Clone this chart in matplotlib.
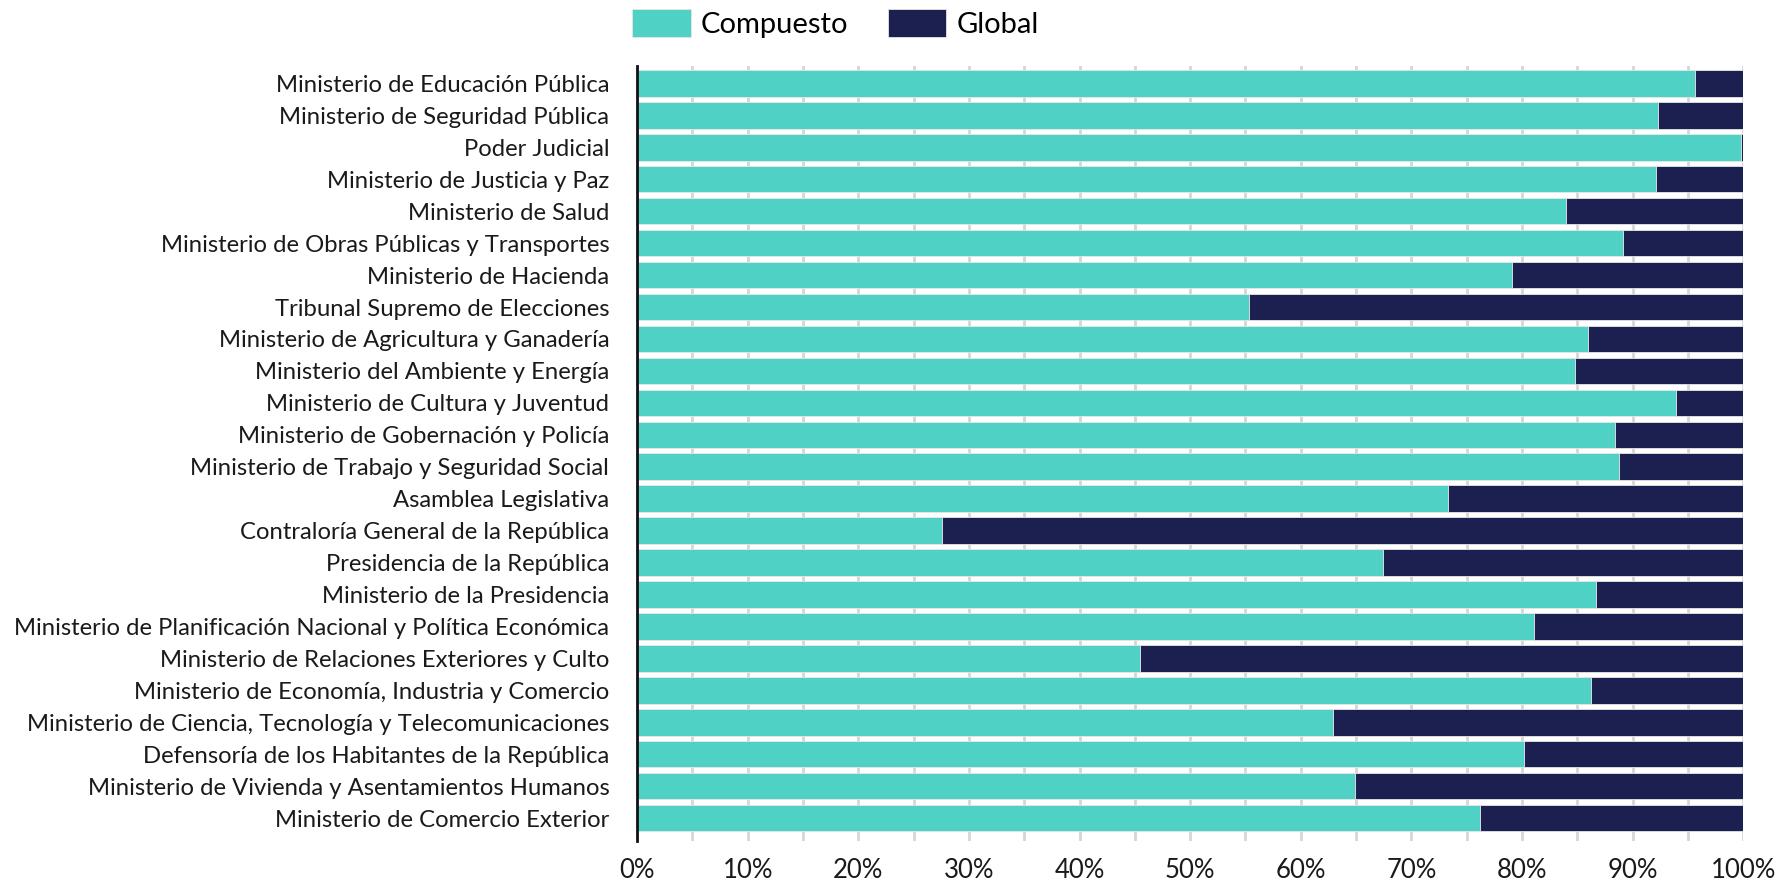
import matplotlib.pyplot as plt
import numpy as np
from matplotlib.ticker import MultipleLocator, FuncFormatter

plt.rcParams['font.family'] = ['Lato', 'DejaVu Sans']

# Institutions, top to bottom
instituciones = [
    "Ministerio de Educación Pública",
    "Ministerio de Seguridad Pública",
    "Poder Judicial",
    "Ministerio de Justicia y Paz",
    "Ministerio de Salud",
    "Ministerio de Obras Públicas y Transportes",
    "Ministerio de Hacienda",
    "Tribunal Supremo de Elecciones",
    "Ministerio de Agricultura y Ganadería",
    "Ministerio del Ambiente y Energía",
    "Ministerio de Cultura y Juventud",
    "Ministerio de Gobernación y Policía",
    "Ministerio de Trabajo y Seguridad Social",
    "Asamblea Legislativa",
    "Contraloría General de la República",
    "Presidencia de la República",
    "Ministerio de la Presidencia",
    "Ministerio de Planificación Nacional y Política Económica",
    "Ministerio de Relaciones Exteriores y Culto",
    "Ministerio de Economía, Industria y Comercio",
    "Ministerio de Ciencia, Tecnología y Telecomunicaciones",
    "Defensoría de los Habitantes de la República",
    "Ministerio de Vivienda y Asentamientos Humanos",
    "Ministerio de Comercio Exterior",
]

# Share (%) of each type
compuesto = [95.6, 92.3, 99.8, 92.1, 84.0, 89.1, 79.1, 55.3, 86.0, 84.8, 93.9, 88.4,
             88.8, 73.3, 27.6, 67.4, 86.7, 81.1, 45.5, 86.2, 62.9, 80.2, 64.9, 76.2]
global_ = [100 - v for v in compuesto]

color_comp = '#4fd1c5'
color_glob = '#1b2050'

fig = plt.figure(figsize=(17.77, 8.82), dpi=100)
ax = fig.add_axes([0.3585, 0.046, 0.6225, 0.879])

y = np.arange(len(instituciones))
ax.barh(y, compuesto, height=0.83, color=color_comp, edgecolor='#e6e6e6', linewidth=0.6,
        label='Compuesto', zorder=2)
ax.barh(y, global_, left=compuesto, height=0.83, color=color_glob, edgecolor='#e6e6e6',
        linewidth=0.6, label='Global', zorder=2)

ax.set_ylim(23.73, -0.54)
ax.set_xlim(0, 100)
ax.set_yticks(y)
ax.set_yticklabels(instituciones, fontsize=17.2, color='#1a1a1a')
ax.xaxis.set_major_locator(MultipleLocator(10))
ax.xaxis.set_minor_locator(MultipleLocator(5))
ax.xaxis.set_major_formatter(FuncFormatter(lambda v, p: f"{v:.0f}%"))
ax.tick_params(axis='x', labelsize=18.5, length=0, pad=12, labelcolor='#1a1a1a')
ax.tick_params(axis='x', which='minor', length=0)
ax.tick_params(axis='y', length=0, pad=20)
ax.grid(axis='x', which='both', color='#d6d6d6', linewidth=2, zorder=0)
ax.set_axisbelow(True)

for s in ['top', 'right', 'bottom']:
    ax.spines[s].set_visible(False)
ax.spines['left'].set_linewidth(2)
ax.spines['left'].set_color('#111111')
ax.spines['left'].set_zorder(3)

fig.legend(loc='upper left', bbox_to_anchor=(0.341, 1.019), ncol=2, frameon=False,
           fontsize=21, handlelength=2.0, handleheight=1.1, columnspacing=1.36,
           handletextpad=0.35)

fig.savefig('out.png', dpi=100)
